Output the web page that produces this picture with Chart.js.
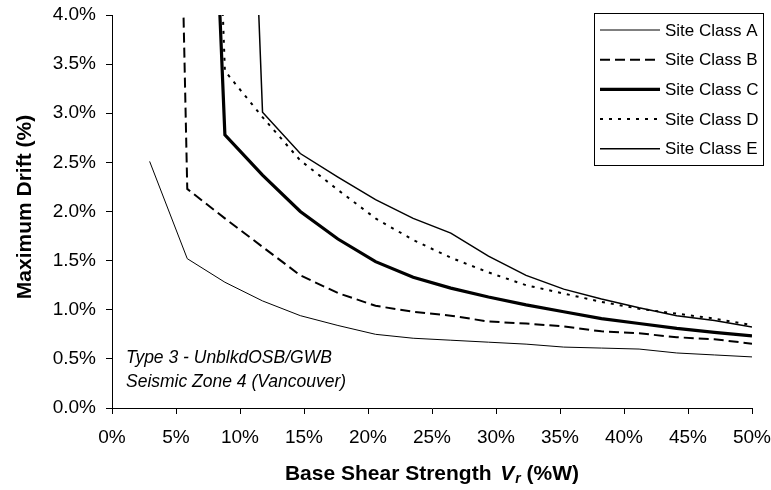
<!DOCTYPE html>
<html><head><meta charset="utf-8">
<script src="https://cdn.jsdelivr.net/npm/chart.js@4/dist/chart.umd.min.js"></script>
<style>html,body{margin:0;padding:0;background:#fff;}#wrap{width:771px;height:490px;}</style>
</head><body><div id="wrap"><canvas id="c" width="771" height="490"></canvas></div>
<script>
// ---- data (Base shear strength Vr in %W, maximum drift in %) ----
const xValues = [2.94, 5.88, 8.82, 11.76, 14.71, 17.65, 20.59, 23.53, 26.47, 29.41, 32.35, 35.29, 38.24, 41.18, 44.12, 47.06, 50.00];
const siteA = [2.51, 1.52, 1.28, 1.09, 0.94, 0.84, 0.75, 0.71, 0.69, 0.67, 0.65, 0.62, 0.61, 0.60, 0.56, 0.54, 0.52];
const siteB = [20.0, 2.23, 1.93, 1.64, 1.35, 1.17, 1.04, 0.98, 0.94, 0.88, 0.86, 0.83, 0.78, 0.76, 0.72, 0.70, 0.655];
const siteC = [null, 12.0, 2.78, 2.37, 2.00, 1.72, 1.49, 1.33, 1.22, 1.13, 1.05, 0.98, 0.91, 0.86, 0.81, 0.77, 0.735];
const siteD = [null, 14.0, 3.43, 2.96, 2.52, 2.22, 1.93, 1.71, 1.53, 1.38, 1.25, 1.165, 1.08, 1.01, 0.96, 0.91, 0.845];
const siteE = [null, null, 13.0, 3.01, 2.59, 2.35, 2.12, 1.93, 1.78, 1.545, 1.35, 1.21, 1.11, 1.02, 0.94, 0.89, 0.825];
const seriesLabels = ['Site Class A', 'Site Class B', 'Site Class C', 'Site Class D', 'Site Class E'];
const xTickValues = [0, 5, 10, 15, 20, 25, 30, 35, 40, 45, 50];
const yTickValues = [0, 0.5, 1.0, 1.5, 2.0, 2.5, 3.0, 3.5, 4.0];
const yAxisTitle = 'Maximum Drift (%)';
const xAxisTitleParts = ['Base Shear Strength ', 'V', 'r', ' (%W)'];
const noteLines = ['Type 3 - UnblkdOSB/GWB', 'Seismic Zone 4 (Vancouver)'];

const FONT = '"Liberation Sans", Arial, sans-serif';
const styles = [
  {borderWidth: 1, borderDash: []},
  {borderWidth: 2, borderDash: [10, 5]},
  {borderWidth: 3.2, borderDash: []},
  {borderWidth: 2, borderDash: [3, 6]},
  {borderWidth: 1.5, borderDash: []}
];
const seriesValues = [siteA, siteB, siteC, siteD, siteE];
const datasets = seriesValues.map((vals, i) => ({
  label: seriesLabels[i],
  data: vals.map((v, j) => ({x: xValues[j], y: v})),
  borderColor: '#000',
  backgroundColor: '#000',
  borderWidth: styles[i].borderWidth,
  borderDash: styles[i].borderDash,
  pointRadius: 0,
  tension: 0,
  fill: false,
  spanGaps: false,
  clip: 0,
  borderCapStyle: 'butt',
  borderJoinStyle: 'miter'
}));

const decorPlugin = {
  id: 'decor',
  afterDraw(chart) {
    const ctx = chart.ctx;
    const ca = chart.chartArea;
    ctx.save();
    // y axis title
    ctx.fillStyle = '#000';
    ctx.font = 'bold 21px ' + FONT;
    ctx.textAlign = 'center';
    ctx.textBaseline = 'middle';
    ctx.translate(25, 207);
    ctx.rotate(-Math.PI / 2);
    ctx.fillText(yAxisTitle, 0, 0);
    ctx.setTransform(1, 0, 0, 1, 0, 0);

    // x axis title with italic V and subscript r
    const fonts = ['bold 21px ' + FONT, 'italic bold 21px ' + FONT, 'italic bold 14px ' + FONT, 'bold 21px ' + FONT];
    const dys = [0, 0, 3, 0];
    const gaps = [0, 3, 1, 0];
    let total = 0;
    const widths = xAxisTitleParts.map((t, i) => { ctx.font = fonts[i]; const w = ctx.measureText(t).width; total += w + gaps[i]; return w; });
    let x = (ca.left + ca.right) / 2 - total / 2;
    ctx.textAlign = 'left';
    ctx.textBaseline = 'alphabetic';
    xAxisTitleParts.forEach((t, i) => {
      x += gaps[i];
      ctx.font = fonts[i];
      ctx.fillText(t, x, 480 + dys[i]);
      x += widths[i];
    });

    // annotation
    ctx.font = 'italic 17.5px ' + FONT;
    noteLines.forEach((t, i) => ctx.fillText(t, 126, 362.5 + i * 24));

    // legend
    const lx = 594.5, ly = 13.5, lw = 169, lh = 152;
    ctx.fillStyle = '#fff';
    ctx.fillRect(lx, ly, lw, lh);
    ctx.strokeStyle = '#000';
    ctx.lineWidth = 1;
    ctx.setLineDash([]);
    ctx.strokeRect(lx, ly, lw, lh);
    ctx.font = '17px ' + FONT;
    ctx.textBaseline = 'middle';
    chart.data.datasets.forEach((ds, i) => {
      const y = 30 + i * 29.7;
      ctx.strokeStyle = '#000';
      ctx.lineWidth = ds.borderWidth;
      ctx.setLineDash(ds.borderDash || []);
      ctx.beginPath();
      ctx.moveTo(600, y);
      ctx.lineTo(660, y);
      ctx.stroke();
      ctx.setLineDash([]);
      ctx.fillStyle = '#000';
      ctx.fillText(ds.label, 665, y + 1);
    });
    ctx.restore();
  }
};

new Chart(document.getElementById('c'), {
  type: 'line',
  data: {datasets},
  options: {
    responsive: false,
    animation: false,
    devicePixelRatio: 1,
    layout: {padding: {left: 0, top: 15, right: 19, bottom: 0}},
    plugins: {legend: {display: false}, tooltip: {enabled: false}},
    scales: {
      x: {
        type: 'linear', min: 0, max: 50,
        afterBuildTicks: s => { s.ticks = xTickValues.map(v => ({value: v})); },
        afterFit: s => { s.height = 82; s.paddingLeft = 0; s.paddingRight = 0; },
        ticks: {color: '#000', padding: 12, maxRotation: 0, font: {family: FONT, size: 19}, callback: v => v + '%'},
        grid: {display: true, drawOnChartArea: false, drawTicks: true, tickLength: 6, color: '#000'},
        border: {display: true, color: '#000', width: 1}
      },
      y: {
        type: 'linear', min: 0, max: 4,
        afterBuildTicks: s => { s.ticks = yTickValues.map(v => ({value: v})); },
        afterFit: s => { s.width = 112; s.paddingTop = 0; s.paddingBottom = 0; },
        ticks: {color: '#000', padding: 10, font: {family: FONT, size: 19}, callback: v => Number(v).toFixed(1) + '%'},
        grid: {display: true, drawOnChartArea: false, drawTicks: true, tickLength: 6, color: '#000'},
        border: {display: true, color: '#000', width: 1}
      }
    }
  },
  plugins: [decorPlugin]
});
</script></body></html>
